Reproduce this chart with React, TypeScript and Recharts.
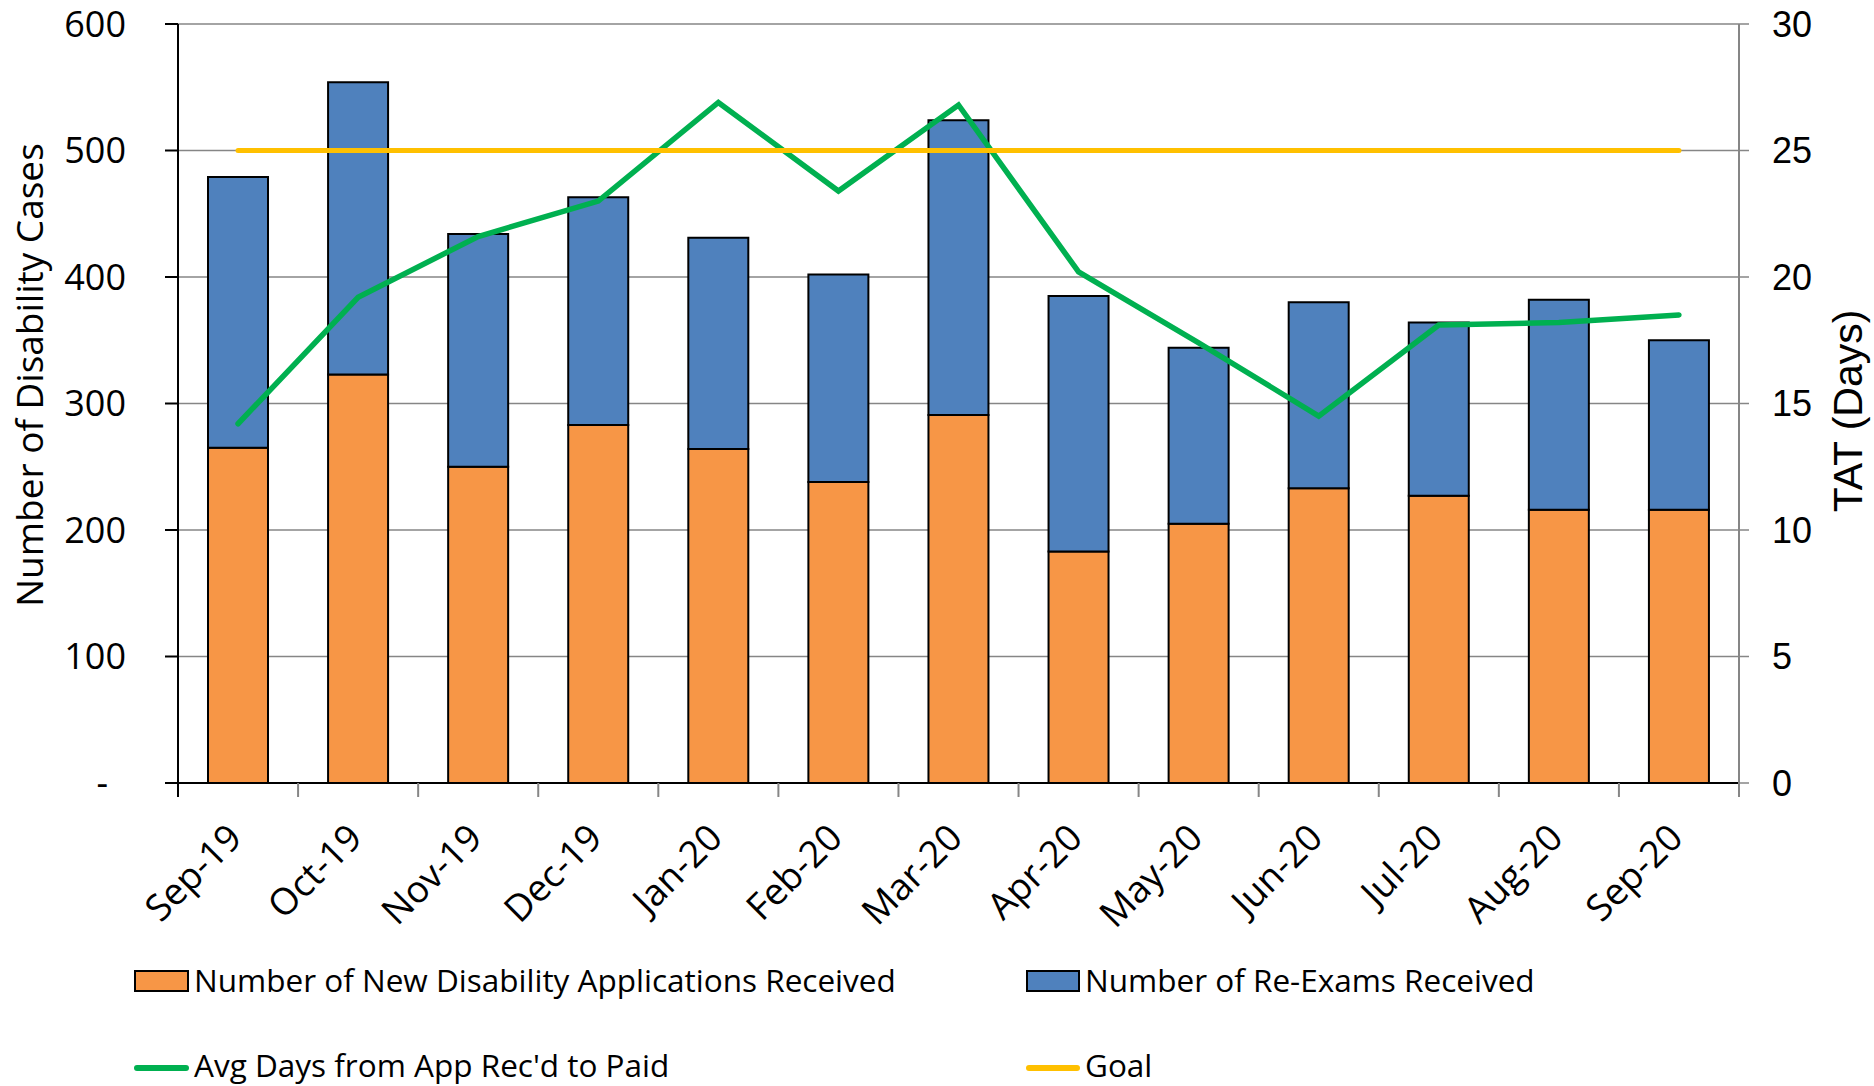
import { Bar, CartesianGrid, ComposedChart, Line, XAxis, YAxis } from "recharts";

const MONTHS = [
  "Sep-19", "Oct-19", "Nov-19", "Dec-19", "Jan-20", "Feb-20", "Mar-20",
  "Apr-20", "May-20", "Jun-20", "Jul-20", "Aug-20", "Sep-20",
];
const NEW_APPS = [265, 323, 250, 283, 264, 238, 291, 183, 205, 233, 227, 216, 216];
const RE_EXAMS = [214, 231, 184, 180, 167, 164, 233, 202, 139, 147, 137, 166, 134];
const AVG_DAYS = [14.2, 19.2, 21.6, 23.0, 26.9, 23.4, 26.8, 20.2, 17.4, 14.5, 18.1, 18.2, 18.5];
const GOAL_DAYS = [25, 25, 25, 25, 25, 25, 25, 25, 25, 25, 25, 25, 25];
const CASE_TICKS = [0, 100, 200, 300, 400, 500, 600];
const DAY_TICKS = [0, 5, 10, 15, 20, 25, 30];

const CHART_W = 1874;
const CHART_H = 960;
const PLOT_LEFT = 178;
const PLOT_RIGHT = 1739;
const HALF_BAND = (PLOT_RIGHT - PLOT_LEFT) / MONTHS.length / 2;

const COLORS = {
  newApps: "#F79646",
  reExams: "#4F81BD",
  avg: "#00B050",
  goal: "#FFC000",
  grid: "#868686",
};

const SANS = "'Open Sans', 'Liberation Sans', sans-serif";
const ARIAL = "'Liberation Sans', Arial, sans-serif";

const data = MONTHS.map((month, i) => ({
  month,
  newApps: NEW_APPS[i],
  reExams: RE_EXAMS[i],
  avgDays: AVG_DAYS[i],
  goal: GOAL_DAYS[i],
}));

function MonthTick(props: any) {
  const { x, y, payload, index } = props;
  const isLast = index === MONTHS.length - 1;
  const tx = x + 6;
  const ty = y + 57;
  return (
    <g>
      <line
        x1={x - HALF_BAND}
        x2={x - HALF_BAND}
        y1={y}
        y2={y + 14}
        stroke={index === 0 ? "#000" : COLORS.grid}
        strokeWidth={2}
      />
      {isLast ? (
        <line x1={x + HALF_BAND} x2={x + HALF_BAND} y1={y} y2={y + 14} stroke={COLORS.grid} strokeWidth={2} />
      ) : null}
      <text
        x={tx}
        y={ty}
        textAnchor="end"
        transform={`rotate(-45 ${tx} ${ty})`}
        fontFamily={SANS}
        fontSize={37}
        fill="#000"
      >
        {payload.value}
      </text>
    </g>
  );
}

function CasesTick(props: any) {
  const { x, y, payload } = props;
  const isZero = payload.value === 0;
  return (
    <text
      x={isZero ? x - 18 : x}
      y={y}
      dy="0.36em"
      textAnchor="end"
      fontFamily={SANS}
      fontSize={36}
      fill="#000"
    >
      {isZero ? "-" : payload.value}
    </text>
  );
}

function DaysTick(props: any) {
  const { x, y, payload } = props;
  return (
    <text x={x} y={y} dy="0.36em" textAnchor="start" fontFamily={ARIAL} fontSize={36} fill="#000">
      {payload.value}
    </text>
  );
}

function Overlay() {
  return (
    <svg
      width={CHART_W}
      height={1086}
      style={{ position: "absolute", left: 0, top: 0, pointerEvents: "none" }}
    >
      <text
        x={43}
        y={375}
        textAnchor="middle"
        transform="rotate(-90 43 375)"
        fontFamily={SANS}
        fontSize={37}
        fill="#000"
      >
        Number of Disability Cases
      </text>
      <text
        x={1862}
        y={411}
        textAnchor="middle"
        transform="rotate(-90 1862 411)"
        fontFamily={ARIAL}
        fontSize={41}
        fill="#000"
      >
        TAT (Days)
      </text>

      <rect x={135} y={971} width={53} height={20} fill={COLORS.newApps} stroke="#000" strokeWidth={2} />
      <text x={194} y={992} fontFamily={SANS} fontSize={31.5} fill="#000">
        Number of New Disability Applications Received
      </text>
      <rect x={1027} y={971} width={52} height={20} fill={COLORS.reExams} stroke="#000" strokeWidth={2} />
      <text x={1085} y={992} fontFamily={SANS} fontSize={31.5} fill="#000">
        Number of Re-Exams Received
      </text>

      <line x1={137} x2={186} y1={1068} y2={1068} stroke={COLORS.avg} strokeWidth={6} strokeLinecap="round" />
      <text x={194} y={1077} fontFamily={SANS} fontSize={31.5} fill="#000">
        Avg Days from App Rec'd to Paid
      </text>
      <line x1={1029} x2={1077} y1={1068} y2={1068} stroke={COLORS.goal} strokeWidth={6} strokeLinecap="round" />
      <text x={1085} y={1077} fontFamily={SANS} fontSize={31.5} fill="#000">
        Goal
      </text>
    </svg>
  );
}

export default function App() {
  return (
    <div style={{ position: "absolute", left: 0, top: 0, width: CHART_W, height: 1086, background: "#fff", overflow: "hidden" }}>
      <ComposedChart
        width={CHART_W}
        height={CHART_H}
        data={data}
        margin={{ top: 24, right: 0, bottom: 0, left: 0 }}
      >
        <CartesianGrid yAxisId="cases" vertical={false} stroke={COLORS.grid} strokeWidth={1.5} />
        <XAxis
          dataKey="month"
          interval={0}
          height={177}
          tickSize={0}
          tickMargin={0}
          tickLine={false}
          axisLine={{ stroke: "#000", strokeWidth: 2 }}
          tick={<MonthTick />}
        />
        <YAxis
          yAxisId="cases"
          width={PLOT_LEFT}
          domain={[0, 600]}
          ticks={CASE_TICKS}
          tickSize={13}
          tickMargin={39}
          axisLine={{ stroke: "#000", strokeWidth: 2 }}
          tickLine={{ stroke: "#000", strokeWidth: 2 }}
          tick={<CasesTick />}
        />
        <YAxis
          yAxisId="days"
          orientation="right"
          width={CHART_W - PLOT_RIGHT}
          domain={[0, 30]}
          ticks={DAY_TICKS}
          tickSize={10}
          tickMargin={23}
          axisLine={{ stroke: COLORS.grid, strokeWidth: 2 }}
          tickLine={{ stroke: COLORS.grid, strokeWidth: 1.5 }}
          tick={<DaysTick />}
        />
        <Bar
          yAxisId="cases"
          dataKey="newApps"
          stackId="cases"
          barSize={60}
          fill={COLORS.newApps}
          stroke="#000"
          strokeWidth={2}
          isAnimationActive={false}
        />
        <Bar
          yAxisId="cases"
          dataKey="reExams"
          stackId="cases"
          barSize={60}
          fill={COLORS.reExams}
          stroke="#000"
          strokeWidth={2}
          isAnimationActive={false}
        />
        <Line
          yAxisId="days"
          type="linear"
          dataKey="avgDays"
          stroke={COLORS.avg}
          strokeWidth={5.5}
          strokeLinecap="round"
          dot={false}
          activeDot={false}
          isAnimationActive={false}
        />
        <Line
          yAxisId="days"
          type="linear"
          dataKey="goal"
          stroke={COLORS.goal}
          strokeWidth={5}
          strokeLinecap="round"
          dot={false}
          activeDot={false}
          isAnimationActive={false}
        />
      </ComposedChart>
      <Overlay />
    </div>
  );
}
